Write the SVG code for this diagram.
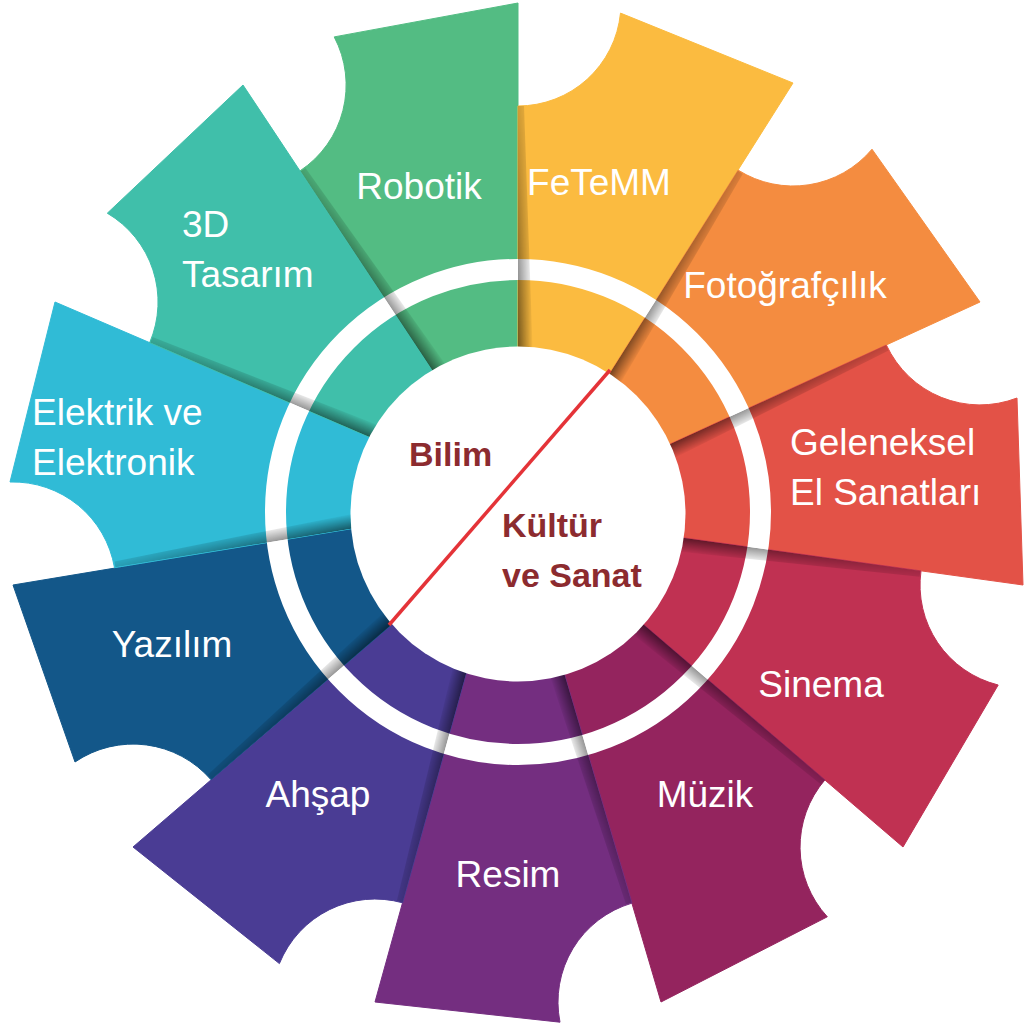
<svg xmlns="http://www.w3.org/2000/svg" width="1025" height="1024" viewBox="0 0 1025 1024">
<style>
.lbl{font-family:"Liberation Sans",Arial,sans-serif;font-size:37px;fill:#fff}
.mid{text-anchor:middle}
.ctr{font-family:"Liberation Sans",Arial,sans-serif;font-size:34px;font-weight:bold;fill:#8C2B2F}
.sh{fill:url(#shg);mask:url(#fade)}
.petal{stroke-width:1;stroke-linejoin:round}
</style>
<defs>
<linearGradient id="shg" x1="0" y1="0" x2="0" y2="1">
<stop offset="0" stop-color="#000" stop-opacity="0.55"/>
<stop offset="0.45" stop-color="#000" stop-opacity="0.3"/>
<stop offset="1" stop-color="#000" stop-opacity="0"/>
</linearGradient>
<linearGradient id="fg" x1="0" y1="0" x2="1" y2="0">
<stop offset="0" stop-color="#fff"/>
<stop offset="1" stop-color="#fff" stop-opacity="0.3"/>
</linearGradient>
<mask id="fade" maskContentUnits="objectBoundingBox"><rect width="1" height="1" fill="url(#fg)"/></mask>
</defs>
<rect width="1025" height="1024" fill="#fff"/>

<g id="robotik">
<path class="petal" fill="#53BC83" stroke="#53BC83" d="M518,514 L444,388 L300.1,170.8 A103,103 0 0 0 334.2,36.9 L518,3 Z"/>
<text class="lbl mid" x="419" y="199">Robotik</text>
</g>
<g id="fetemm">
<path class="petal" fill="#FBBB40" stroke="#FBBB40" d="M518,514 L518,106 A103,103 0 0 0 620.5,13.1 L793,83 L601,387 Z"/>
<text class="lbl mid" x="599" y="195">FeTeMM</text>
</g>
<g id="fotografcilik">
<path class="petal" fill="#F48C40" stroke="#F48C40" d="M518,514 L601,387 L738.1,170.1 A103,103 0 0 0 872,149.2 L980,302 L657,450 Z"/>
<text class="lbl mid" x="785" y="298">Fotoğrafçılık</text>
</g>
<g id="geleneksel">
<path class="petal" fill="#E35247" stroke="#E35247" d="M518,514 L657,450 L886.4,345 A103,103 0 0 0 1017,398 L1023,585 L663,535 Z"/>
<text class="lbl" x="790" y="455">Geleneksel<tspan x="790" y="505">El Sanatları</tspan></text>
</g>
<g id="sinema">
<path class="petal" fill="#C03152" stroke="#C03152" d="M518,514 L663,535 L921,570.9 A103,103 0 0 0 998.2,685 L903,847 L629,612 Z"/>
<text class="lbl mid" x="821" y="697">Sinema</text>
</g>
<g id="muzik">
<path class="petal" fill="#94245E" stroke="#94245E" d="M518,514 L629,612 L824.9,779.9 A103,103 0 0 0 827.3,916.8 L661,1002 L560,659 Z"/>
<text class="lbl mid" x="705" y="807">Müzik</text>
</g>
<g id="resim">
<path class="petal" fill="#742E80" stroke="#742E80" d="M518,514 L560,659 L632,903.1 A103,103 0 0 0 560,1022.2 L375,1002 L471,656 Z"/>
<text class="lbl mid" x="508" y="887">Resim</text>
</g>
<g id="ahsap">
<path class="petal" fill="#4A3C94" stroke="#4A3C94" d="M518,514 L471,656 L402.6,902.8 A103,103 0 0 0 279.4,963.6 L133,847 L405,613 Z"/>
<text class="lbl mid" x="318" y="807">Ahşap</text>
</g>
<g id="yazilim">
<path class="petal" fill="#135789" stroke="#135789" d="M518,514 L405,613 L211,779.7 A103,103 0 0 0 75,762 L13,585 L368,526 Z"/>
<text class="lbl mid" x="172" y="657">Yazılım</text>
</g>
<g id="elektrik">
<path class="petal" fill="#30BBD6" stroke="#30BBD6" d="M518,514 L368,526 L114.5,567.7 A103,103 0 0 0 10,482 L55,302 L388,445 Z"/>
<text class="lbl" x="32" y="425">Elektrik ve<tspan x="32" y="475">Elektronik</tspan></text>
</g>
<g id="tasarim3d">
<path class="petal" fill="#40BFAA" stroke="#40BFAA" d="M518,514 L388,445 L149.7,342.6 A103,103 0 0 0 107.3,213.2 L243,85 L444,388 Z"/>
<text class="lbl" x="182" y="237">3D<tspan x="182" y="287">Tasarım</tspan></text>
</g>

<g id="ring">
<circle cx="518" cy="512" r="242.5" fill="none" stroke="#fff" stroke-width="21"/>
</g>

<g id="connectors">
<polygon class="sh" points="0,0 254,0 254,6 0,15" transform="translate(518,360) rotate(-90)"/>
<polygon class="sh" points="0,0 256,0 256,6 0,15" transform="translate(601,387) rotate(-57.7)"/>
<polygon class="sh" points="0,0 252,0 252,6 0,15" transform="translate(657,450) rotate(-24.6)"/>
<polygon class="sh" points="0,0 260,0 260,6 0,15" transform="translate(663,535) rotate(7.9)"/>
<polygon class="sh" points="0,0 258,0 258,6 0,15" transform="translate(629,612) rotate(40.6)"/>
<polygon class="sh" points="0,0 254,0 254,6 0,15" transform="translate(560,659) rotate(73.6)"/>
<polygon class="sh" points="0,0 256,0 256,6 0,15" transform="translate(471,656) rotate(105.5)"/>
<polygon class="sh" points="0,0 255,0 255,6 0,15" transform="translate(405,613) rotate(139.3)"/>
<polygon class="sh" points="0,0 256,0 256,6 0,15" transform="translate(368,526) rotate(170.7)"/>
<polygon class="sh" points="0,0 259,0 259,6 0,15" transform="translate(388,445) rotate(-156.7)"/>
<polygon class="sh" points="0,0 260,0 260,6 0,15" transform="translate(444,388) rotate(-123.5)"/>
</g>

<g id="center">
<circle cx="518" cy="514" r="167.5" fill="#fff"/>
<line x1="610" y1="370" x2="389" y2="625" stroke="#E43338" stroke-width="3.5"/>
<text class="ctr" x="409" y="466">Bilim</text>
<text class="ctr" x="502" y="537">Kültür<tspan x="502" y="587">ve Sanat</tspan></text>
</g>
</svg>
